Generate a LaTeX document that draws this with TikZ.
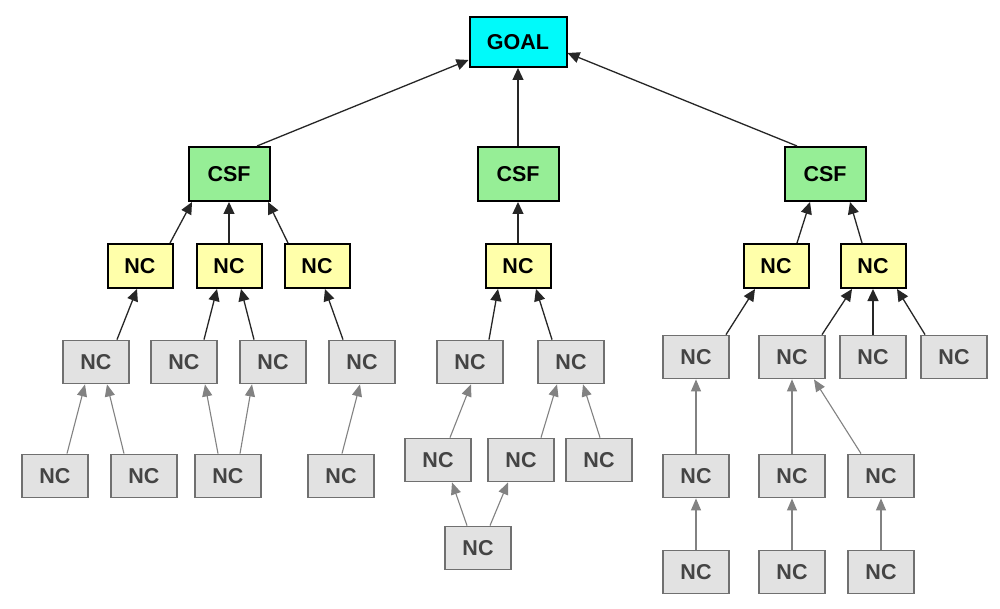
\documentclass[tikz,border=0pt]{standalone}
\usepackage{fontspec}
\setmainfont{Liberation Sans}
\usetikzlibrary{arrows.meta}
\definecolor{goalc}{RGB}{0,250,250}
\definecolor{csfc}{RGB}{150,238,150}
\definecolor{ncy}{RGB}{255,255,170}
\definecolor{ncg}{RGB}{226,226,226}
\definecolor{grb}{RGB}{112,112,112}
\definecolor{grt}{RGB}{68,68,68}
\definecolor{gra}{RGB}{130,130,130}
\tikzset{
  basebox/.style={rectangle, inner sep=0pt, font=\fontsize{21.5}{21.5}\selectfont\bfseries},
  goalbox/.style={basebox, draw=black, line width=2pt, fill=goalc, minimum width=97pt, minimum height=50pt},
  csfbox/.style={basebox, draw=black, line width=2pt, fill=csfc, minimum width=81pt, minimum height=54pt},
  ncybox/.style={basebox, draw=black, line width=2pt, fill=ncy, minimum width=65pt, minimum height=44pt},
  ncgbox/.style={basebox, draw=grb, line width=1.8pt, fill=ncg, text=grt, minimum width=66pt, minimum height=43pt},
  blkarr/.style={draw=black!85, line width=1.3pt, -{Triangle[length=12pt,width=11pt]}},
  grarr/.style={draw=gra, line width=1.1pt, -{Triangle[length=12pt,width=10pt]}}
}
\begin{document}
\begin{tikzpicture}[x=1pt,y=-1pt]
\useasboundingbox[fill=white] (0,0) rectangle (1000,609);
% top
\node[goalbox] (goal) at (518,42) {GOAL};
\node[csfbox] (c1) at (229,174) {CSF};
\node[csfbox] (c2) at (518,174) {CSF};
\node[csfbox] (c3) at (825,174) {CSF};
% yellow NC
\node[ncybox] (y1) at (140,266) {NC};
\node[ncybox] (y2) at (229,266) {NC};
\node[ncybox] (y3) at (317,266) {NC};
\node[ncybox] (y4) at (518,266) {NC};
\node[ncybox] (y5) at (776,266) {NC};
\node[ncybox] (y6) at (873,266) {NC};
% gray row a
\node[ncgbox] (ga1) at (96,362) {NC};
\node[ncgbox] (ga2) at (184,362) {NC};
\node[ncgbox] (ga3) at (273,362) {NC};
\node[ncgbox] (ga4) at (362,362) {NC};
\node[ncgbox] (ga5) at (470,362) {NC};
\node[ncgbox] (ga6) at (571,362) {NC};
\node[ncgbox] (ga7) at (696,357) {NC};
\node[ncgbox] (ga8) at (792,357) {NC};
\node[ncgbox] (ga9) at (873,357) {NC};
\node[ncgbox] (ga10) at (954,357) {NC};
% gray row b
\node[ncgbox] (gb1) at (55,476) {NC};
\node[ncgbox] (gb2) at (144,476) {NC};
\node[ncgbox] (gb3) at (228,476) {NC};
\node[ncgbox] (gb4) at (341,476) {NC};
\node[ncgbox] (gb5) at (438,460) {NC};
\node[ncgbox] (gb6) at (521,460) {NC};
\node[ncgbox] (gb7) at (599,460) {NC};
\node[ncgbox] (gb8) at (696,476) {NC};
\node[ncgbox] (gb9) at (792,476) {NC};
\node[ncgbox] (gb10) at (881,476) {NC};
% gray row c
\node[ncgbox] (gc1) at (478,548) {NC};
\node[ncgbox] (gc2) at (696,572) {NC};
\node[ncgbox] (gc3) at (792,572) {NC};
\node[ncgbox] (gc4) at (881,572) {NC};
% CSF -> GOAL
\draw[blkarr] ([xshift=28pt]c1.north) -- ([yshift=-18pt]goal.west);
\draw[blkarr] (c2.north) -- (goal.south);
\draw[blkarr] ([xshift=-28pt]c3.north) -- ([yshift=-11pt]goal.east);
% yellow -> CSF
\draw[blkarr] ([xshift=30pt]y1.north) -- ([xshift=-37pt]c1.south);
\draw[blkarr] (y2.north) -- (c1.south);
\draw[blkarr] ([xshift=-29pt]y3.north) -- ([xshift=39pt]c1.south);
\draw[blkarr] (y4.north) -- (c2.south);
\draw[blkarr] ([xshift=21pt]y5.north) -- ([xshift=-15pt]c3.south);
\draw[blkarr] ([xshift=-11pt]y6.north) -- ([xshift=25pt]c3.south);
% gray -> yellow
\draw[blkarr] ([xshift=21pt]ga1.north) -- ([xshift=-3pt]y1.south);
\draw[blkarr] ([xshift=20pt]ga2.north) -- ([xshift=-12pt]y2.south);
\draw[blkarr] ([xshift=-19pt]ga3.north) -- ([xshift=12pt]y2.south);
\draw[blkarr] ([xshift=-19pt]ga4.north) -- ([xshift=8pt]y3.south);
\draw[blkarr] ([xshift=19pt]ga5.north) -- ([xshift=-20pt]y4.south);
\draw[blkarr] ([xshift=-19pt]ga6.north) -- ([xshift=18pt]y4.south);
\draw[blkarr] ([xshift=30pt]ga7.north) -- ([xshift=-21pt]y5.south);
\draw[blkarr] ([xshift=30pt]ga8.north) -- ([xshift=-21pt]y6.south);
\draw[blkarr] (ga9.north) -- (y6.south);
\draw[blkarr] ([xshift=-29pt]ga10.north) -- ([xshift=24pt]y6.south);
% gray -> gray
\draw[grarr] ([xshift=12pt]gb1.north) -- ([xshift=-11pt]ga1.south);
\draw[grarr] ([xshift=-20pt]gb2.north) -- ([xshift=11pt]ga1.south);
\draw[grarr] ([xshift=-10pt]gb3.north) -- ([xshift=21pt]ga2.south);
\draw[grarr] ([xshift=12pt]gb3.north) -- ([xshift=-21pt]ga3.south);
\draw[grarr] ([xshift=1pt]gb4.north) -- ([xshift=-2pt]ga4.south);
\draw[grarr] ([xshift=12pt]gb5.north) -- ([xshift=1pt]ga5.south);
\draw[grarr] ([xshift=20pt]gb6.north) -- ([xshift=-14pt]ga6.south);
\draw[grarr] ([xshift=1pt]gb7.north) -- ([xshift=12pt]ga6.south);
\draw[grarr] ([xshift=-11pt]gc1.north) -- ([xshift=14pt]gb5.south);
\draw[grarr] ([xshift=12pt]gc1.north) -- ([xshift=-13pt]gb6.south);
\draw[grarr] (gb8.north) -- (ga7.south);
\draw[grarr] (gb9.north) -- (ga8.south);
\draw[grarr] ([xshift=-20pt]gb10.north) -- ([xshift=22pt]ga8.south);
\draw[grarr] (gc2.north) -- (gb8.south);
\draw[grarr] (gc3.north) -- (gb9.south);
\draw[grarr] (gc4.north) -- (gb10.south);
\end{tikzpicture}
\end{document}
